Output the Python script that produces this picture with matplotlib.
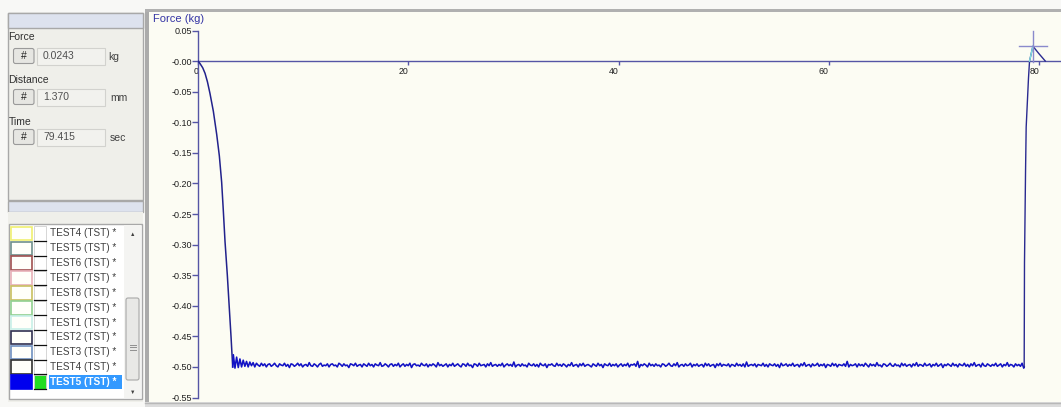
import numpy as np
import matplotlib
matplotlib.use('Agg')
import matplotlib.pyplot as plt
from matplotlib.patches import Rectangle, FancyBboxPatch

# ---------------- data ----------------
descent_t = [0.0, 0.19, 0.45, 0.67, 0.90, 1.14, 1.46, 1.78, 2.03, 2.25, 2.41, 2.57, 2.79, 2.95, 3.14, 3.30]
descent_f = [0.0, -0.004, -0.011, -0.020, -0.034, -0.053, -0.082, -0.120, -0.155, -0.198, -0.245,
             -0.295, -0.350, -0.396, -0.450, -0.500]
plateau_start, plateau_end = 3.36, 78.55
plateau_level = -0.497
# plateau deviations in units of 0.001 kg
plateau_dev = [17, -5, 13, -4, 10, -3, 8, -2, 6, -3, 5, -1, 4, -3, 3, 0, -2, 3, -1, 2,
               -3, 1, 2, -2, 0, 3, -1, -3, 2, 0, -1, 3, -2, 1, -4, 2, 1, -2, 0, 3,
               -1, 2, -3, 0, 1, -2, 4, -1, -2, 2, 0, -3, 1, 3, -2, 0, -1, 2, -3, 1,
               2, -1, 0, -3, 3, 1, -2, 2, -1, 0, -4, 2, 1, -1, 3, -2, 0, 1, -3, 2,
               0, -2, 3, -1, 1, -3, 2, 0, -1, 4, -2, -1, 2, 0, -3, 1, 2, -2, 1, -1,
               3, -3, 0, 2, -2, 1, -1, 3, -4, 1, 2, -1, 0, -2, 3, 0, -1, 2, -3, 1,
               -1, 2, 0, -3, 4, -1, 1, -2, 0, 2, -3, 1, -1, 3, -2, 0, 2, -1, -3, 2,
               1, -2, 3, -1, 0, -4, 2, 1, -2, 3, -1, 0, 1, -3, 2, -1, 4, -2, 0, 1,
               -2, 1, -1, 3, -3, 0, 2, -1, 1, -2, 5, -3, 0, 1, -2, 2, -1, 0, -3, 3,
               0, -1, 2, -2, 1, -3, 3, 0, -1, 2, -4, 1, 0, 2, -1, -2, 3, -1, 1, -2,
               2, 0, -3, 1, -1, 4, -2, 0, 1, -3, 2, -1, 3, -2, 0, 1, -1, -3, 2, 0,
               -2, 3, -1, 1, -4, 2, 0, -1, 3, -2, 1, -1, 2, -3, 0, 2, -2, 1, -1, 3,
               -3, 1, 0, 2, -2, 6, -4, 1, -1, 2, 0, -3, 3, -1, 1, -2, 2, -1, 0, -3,
               2, 1, -2, 0, 3, -1, -2, 2, -1, 4, -3, 0, 1, -2, 2, -1, 0, 3, -3, 1,
               -1, 2, -2, 0, 1, -3, 3, -1, 2, -2, 0, 1, -4, 2, -1, 3, -2, 1, 0, -1,
               2, -3, 1, 0, -2, 3, -1, 1, -2, 2, -3, 5, -2, 0, 1, -1, 2, -3, 1, 0,
               -1, 3, -2, 1, -3, 2, 0, -1, 2, -2, 1, -4, 3, -1, 0, 2, -2, 1, -1, 3,
               -2, 0, 1, -3, 2, -1, 4, -2, 0, 1, -3, 2, -1, 0, 3, -2, 1, -1, 2, -4,
               1, 0, -2, 3, -1, 2, -3, 1, 0, -1, 2, -2, 6, -3, 1, -1, 0, 2, -3, 2,
               -1, 1, -2, 3, 0, -3, 2, -1, 1, -2, 4, -1, 0, -3, 2, 1, -2, 0, 3, -1,
               -2, 2, -1, 0, -3, 3, -1, 2, -2, 0, 1, -3, 2, -1, 4, -2, 1, 0, -2, 3,
               -1, 0, 2, -3, 1, -1, 3, -2, 0, 2, -4, 1, -1, 2, 0, -2, 3, -1, 1, -3,
               2, 0, -1, 3, -2, 1, -3, 2, -1, 4, -2, 0, 1, -3, 3, -1, -2, 2, 0, -2,
               1, -1, 3, -2, 0, 2, -3, 1, -1, 4, -2, 1, 0, -3, 2, -1, 1, -2, 3, -5]
rise_t = [78.59, 78.62, 78.72, 78.78, 79.0, 79.1, 79.42, 80.0, 80.6]
rise_f = [-0.500, -0.33, -0.18, -0.108, -0.028, 0.0, 0.0243, 0.012, 0.0]

cursor_t, cursor_f = 79.415, 0.0243

x_ticks = [0, 20, 40, 60, 80]
x_tick_labels = ['0', '20', '40', '60', '80']
y_ticks = [0.05, 0.0, -0.05, -0.10, -0.15, -0.20, -0.25, -0.30, -0.35, -0.40, -0.45, -0.50, -0.55]
y_tick_labels = ['0.05', '-0.00', '-0.05', '-0.10', '-0.15', '-0.20', '-0.25', '-0.30',
                 '-0.35', '-0.40', '-0.45', '-0.50', '-0.55']

readout_labels = ['Force', 'Distance', 'Time']
readout_values = ['0.0243', '1.370', '79.415']
readout_units = ['kg', 'mm', 'sec']

test_names = ['TEST4 (TST) *', 'TEST5 (TST) *', 'TEST6 (TST) *', 'TEST7 (TST) *',
              'TEST8 (TST) *', 'TEST9 (TST) *', 'TEST1 (TST) *', 'TEST2 (TST) *',
              'TEST3 (TST) *', 'TEST4 (TST) *', 'TEST5 (TST) *']
test_colors = ['#f0f070', '#70908c', '#a05050', '#e8b0b8', '#c8c060', '#90d090',
               '#c8f0e8', '#303050', '#7090c0', '#303030', '#0000ee']

# ---------------- figure ----------------
plt.rcParams['font.family'] = ['Liberation Sans', 'DejaVu Sans']
W, H = 1061, 407
fig = plt.figure(figsize=(W / 100, H / 100), dpi=100)
fig.patch.set_facecolor('#f8f8f6')

bg = fig.add_axes([0, 0, 1, 1], zorder=0)
bg.set_xlim(0, W)
bg.set_ylim(H, 0)
bg.axis('off')


def rect(x0, y0, x1, y1, fc, ec='none', lw=1.0, z=1):
    bg.add_patch(Rectangle((x0, y0), x1 - x0, y1 - y0, facecolor=fc, edgecolor=ec, lw=lw, zorder=z))


# left top panel
rect(8, 13, 143, 200, '#efefea', '#a8a8a8', 1)
rect(8, 13, 143, 28, '#dde2ee', '#a8a8a8', 1)
label_y = [37, 80, 122]
box_y = [56, 97, 137]
unit_x = [108, 110, 110]
for lab, val, unit, ly, by, ux in zip(readout_labels, readout_values, readout_units, label_y, box_y, unit_x):
    bg.text(8.5, ly, lab, fontsize=7.5, color='#303030', va='center', ha='left', zorder=3)
    bg.add_patch(FancyBboxPatch((13.5, by - 7.5), 20.5, 15, boxstyle='round,pad=0,rounding_size=2',
                                facecolor='#e6e6e2', edgecolor='#9a9a9a', lw=0.8, zorder=2))
    bg.text(23.5, by, '#', fontsize=7.5, color='#202020', va='center', ha='center', zorder=3)
    rect(37, by - 8.5, 105, by + 8.5, '#f2f2ee', '#d2d2ce', 0.8, z=2)
    bg.text(43, by, val, fontsize=7.5, color='#505050', va='center', ha='left', zorder=3)
    bg.text(ux, by + 1, unit, fontsize=7.5, color='#404040', va='center', ha='left', zorder=3)

# second panel header
rect(8, 201, 143, 212, '#dde2ee', '#a8a8a8', 1)
rect(8, 212, 143, 402, '#efefea', 'none')
# list box
rect(9, 224, 142, 399, '#ffffff', '#a8a8a8', 1, z=2)
row0, dy = 233.5, 14.85
for i, (name, col) in enumerate(zip(test_names, test_colors)):
    yc = row0 + i * dy
    last = (i == len(test_names) - 1)
    rect(10.5, yc - 6.8, 31.5, yc + 6.8, col if last else '#fffffa', col, 1.2, z=3)
    rect(34, yc - 7.2, 46, yc + 7.2, '#22dd22' if last else '#ffffff', '#d0d0d0', 0.6, z=3)
    bg.plot([34, 46], [yc + 7.2, yc + 7.2], color='#101010', lw=0.9, zorder=4)
    if last:
        rect(49, yc - 7, 122, yc + 7, '#3399ff', 'none', z=3)
        bg.text(50, yc, name, fontsize=7.2, color='white', va='center', ha='left', zorder=4,
                fontweight='bold')
    else:
        bg.text(50, yc, name, fontsize=7.2, color='#404040', va='center', ha='left', zorder=4)
# scrollbar
rect(124, 225, 141, 398, '#f4f4f2', 'none', z=3)
bg.text(132.5, 234, '\u25b2', fontsize=4, color='#404040', ha='center', va='center', zorder=4)
bg.text(132.5, 392, '\u25bc', fontsize=4, color='#404040', ha='center', va='center', zorder=4)
bg.add_patch(FancyBboxPatch((126, 298), 13, 82, boxstyle='round,pad=0,rounding_size=2',
                            facecolor='#e8e8e6', edgecolor='#a8a8a8', lw=0.8, zorder=4))
for yy in (344.5, 347, 349.5):
    bg.plot([129.5, 135.5], [yy, yy], color='#909090', lw=0.7, zorder=5)

# chart panel background & frame
rect(149, 12, W, 402, '#fcfcf3', 'none')
rect(145, 9, 149, 403, '#ababab', 'none', z=2)
rect(145, 9, W, 12, '#b0b0b0', 'none', z=2)
rect(145, 402, W, H, '#dcdcdc', 'none', z=2)
bg.plot([145, W], [402.5, 402.5], color='#b8b8b8', lw=1, zorder=3)
bg.text(153, 19, 'Force (kg)', fontsize=8, color='#3535a5', va='center', ha='left', zorder=3)

# ---------------- chart axes ----------------
x0_px, x80_px = 198, 1039
px_per_unit = (x80_px - x0_px) / 80.0
y_top_px, y_bot_px = 30.5, 397.5
ax = fig.add_axes([x0_px / W, (H - y_bot_px) / H, (W - x0_px) / W, (y_bot_px - y_top_px) / H], zorder=2)
ax.patch.set_alpha(0)
ax.set_xlim(0, (W - x0_px) / px_per_unit)
ax.set_ylim(-0.55, 0.05)

axis_col = '#5555a5'
for s in ('top', 'right'):
    ax.spines[s].set_visible(False)
ax.spines['left'].set_color(axis_col)
ax.spines['bottom'].set_color(axis_col)
ax.spines['bottom'].set_position(('data', 0))
ax.spines['left'].set_linewidth(1)
ax.spines['bottom'].set_linewidth(1)

ax.set_xticks(x_ticks)
ax.set_xticklabels(x_tick_labels, fontsize=6.3, color='#202020', ha='right')
ax.set_yticks(y_ticks)
ax.set_yticklabels(y_tick_labels, fontsize=6.5, color='#202020')
ax.tick_params(axis='x', direction='out', length=3, width=1, color=axis_col, pad=1)
ax.tick_params(axis='y', direction='out', length=4, width=1, color=axis_col, pad=0.5)

plateau_t = np.linspace(plateau_start, plateau_end, len(plateau_dev))
plateau_f = plateau_level + np.array(plateau_dev) / 1000.0
ax.plot(descent_t, descent_f, color='#22228c', lw=1.1, zorder=3, solid_joinstyle='round')
ax.plot(np.concatenate([[descent_t[-1]], plateau_t, [rise_t[0]]]),
        np.concatenate([[descent_f[-1]], plateau_f, [rise_f[0]]]),
        color='#1212c4', lw=1.15, zorder=3)
ax.plot(rise_t, rise_f, color='#2a2a90', lw=1.0, zorder=3, clip_on=False)

# cursor highlight and crosshair
ax.plot([rise_t[5], rise_t[6]], [rise_f[5], rise_f[6]], color='#80e0e0', lw=1.0, zorder=4)
ax.plot([cursor_t - 1.35, cursor_t + 1.35], [cursor_f, cursor_f], color='#8a8acc', lw=1.0, zorder=4, clip_on=False)
ax.plot([cursor_t, cursor_t], [cursor_f - 0.026, cursor_f + 0.025], color='#8a8acc', lw=1.0, zorder=4, clip_on=False)

fig.savefig('out.png', dpi=100, facecolor=fig.get_facecolor())
